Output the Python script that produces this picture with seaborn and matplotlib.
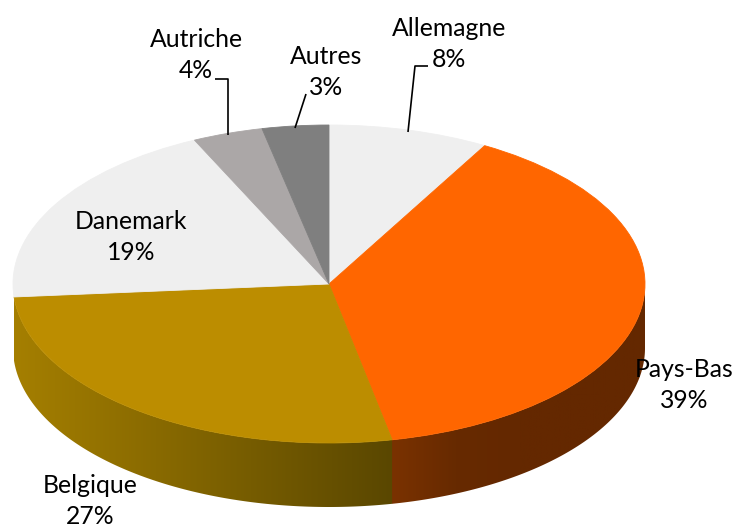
import numpy as np
import matplotlib
matplotlib.use("Agg")
import matplotlib.pyplot as plt
from matplotlib.colors import LinearSegmentedColormap
from matplotlib.patches import Polygon
import seaborn as sns

labels = ["Allemagne", "Pays-Bas", "Belgique", "Danemark", "Autriche", "Autres"]
values = [8.2, 38.6, 26.9, 19.3, 3.6, 3.4]
top_colors = ["#EFEFEF", "#FF6600", "#BC8D00", "#EFEFEF", "#ABA7A7", "#7F7F7F"]

# wall shades from left to right on each visible side
wall_shades = {"Pays-Bas": ["#7A3200", "#672A00", "#642800", "#642800", "#642800"],
               "Belgique": ["#A57F00", "#5A4700"]}

sns.set_theme(style="white")
plt.rcParams["font.family"] = ["Lato", "DejaVu Sans"]

W, H = 736, 526
cx, cy = 329, 284     # ellipse centre in pixels
rx, ry = 316, 159
depth = 64 / ry

fig = plt.figure(figsize=(W / 100, H / 100), dpi=100)
ax = fig.add_axes([0, 0, 1, 1])

# side wall, one gradient per slice clipped to the slice's front outline
edges = np.cumsum([0] + values) / sum(values) * 360
for i, name in enumerate(labels):
    if name not in wall_shades:
        continue
    a = np.radians(np.arange(edges[i], edges[i + 1] + 0.25, 0.25))
    a = a[np.cos(a) <= 0]
    xs, ys = np.sin(a), np.cos(a)
    outline = np.r_[np.c_[xs, ys], np.c_[xs, ys - depth][::-1]]
    cmap = LinearSegmentedColormap.from_list(name, wall_shades[name])
    lo, hi = min(xs), max(xs)
    img = ax.imshow(np.linspace(0, 1, 256)[None, :], cmap=cmap, aspect="auto",
                    extent=(lo, hi, ys.min() - depth, ys.max()), zorder=1)
    poly = Polygon(outline, transform=ax.transData, fc="none", ec="none")
    ax.add_patch(poly)
    img.set_clip_path(poly)

# top face
wedges, _ = ax.pie(values, colors=top_colors, startangle=90, counterclock=False, radius=1,
                   wedgeprops={"linewidth": 0.6, "zorder": 2})
for w in wedges:
    w.set_edgecolor(w.get_facecolor())

ax.set_aspect("auto")
ax.set_xlim(-cx / rx, (W - cx) / rx)
ax.set_ylim(-(H - cy) / ry, cy / ry)
ax.axis("off")

def px(x, y):
    return (x - cx) / rx, (cy - y) / ry

# labels
label_pos = [(449, 44), (684, 385), (90, 501), (131, 237), (196, 55), (326, 72)]
for name, v, (x, y) in zip(labels, values, label_pos):
    tx, ty = px(x, y)
    ax.text(tx, ty, f"{name}\n{v:.0f}%", ha="center", va="center", fontsize=17.8,
            color="black", linespacing=1.37, zorder=5)

# leader lines
leaders = [[(408, 132), (415, 66), (428, 66)],
           [(228, 135), (228, 79), (215, 79)],
           [(295, 128), (306, 94)]]
for pts in leaders:
    p = np.array([px(*q) for q in pts])
    ax.plot(p[:, 0], p[:, 1], color="black", lw=1.2, solid_capstyle="butt", zorder=4)

fig.savefig("out.png", dpi=100)
